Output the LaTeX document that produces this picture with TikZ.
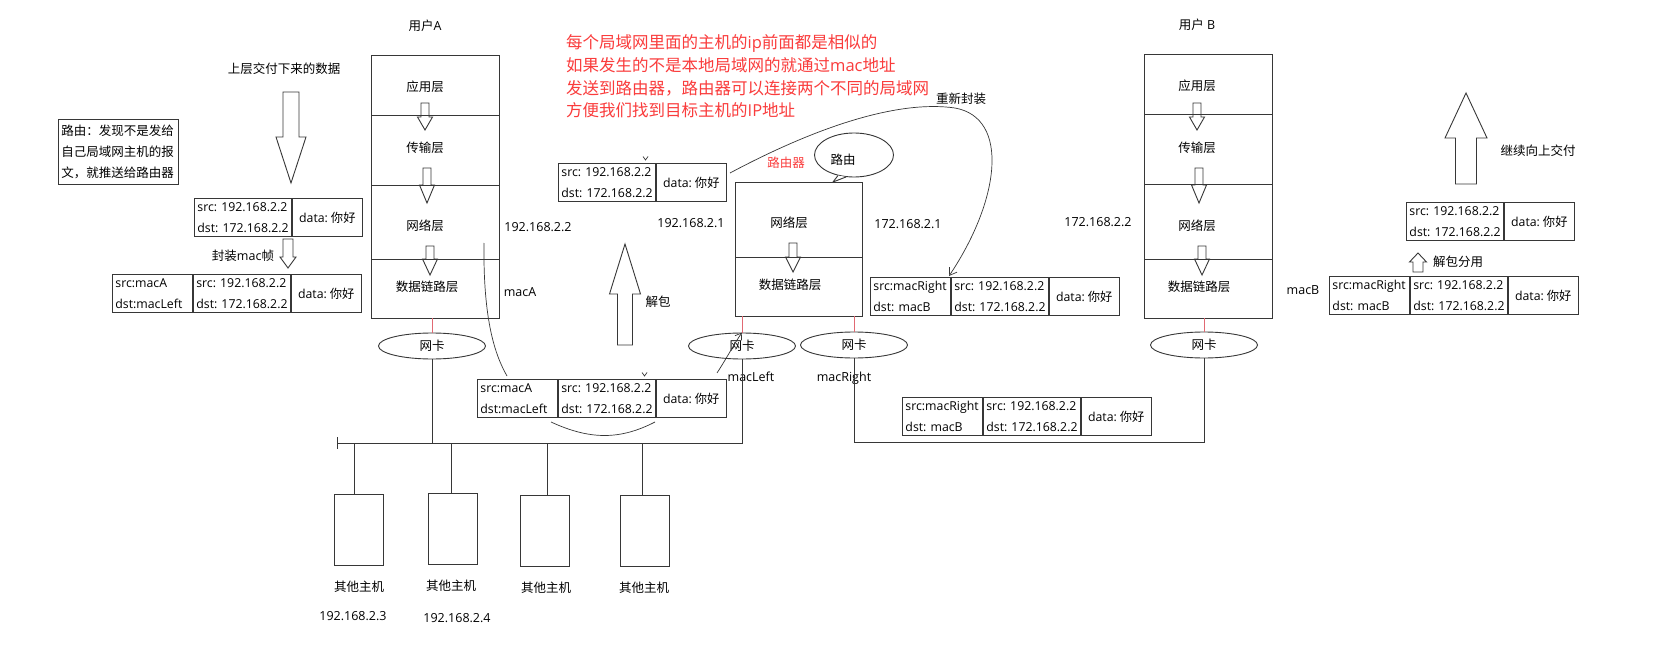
\documentclass[tikz,border=0pt]{standalone}
\usepackage{fontspec}
\setmainfont{Open Sans}
\newfontfamily\zh{Noto Sans CJK SC}
\usetikzlibrary{arrows.meta,shapes.geometric}
\definecolor{redtxt}{RGB}{250,60,60}
\definecolor{nicred}{RGB}{225,105,115}
\definecolor{ink}{RGB}{55,55,55}
\frenchspacing
\newcommand\nihao{data:\hspace{3pt}{\zh 你好}}
\newcommand\ipsd{\mbox{src: 192.168.2.2}\\\mbox{dst: 172.168.2.2}}
\newcommand\pktmac[5]{%
  \node[fld, text width=74] (#1m) at (#2,#3) {\mbox{#4}\\\mbox{#5}};
  \node[fld, text width=91] (#1i) at (#1m.north east) {\ipsd};
  \node[fld, text width=64, align=center] (#1d) at (#1i.north east) {\nihao};}
\newcommand\pktip[3]{%
  \node[fld, text width=91] (#1i) at (#2,#3) {\ipsd};
  \node[fld, text width=64, align=center] (#1d) at (#1i.north east) {\nihao};}
\tikzset{
  ln/.style={draw=ink, line width=0.9pt},
  cv/.style={draw=ink, line width=0.7pt},
  lbl/.style={inner sep=0pt, text height=10pt, text depth=1.5pt},
  lay/.style={ln, anchor=north west, minimum width=128, inner sep=0pt, outer sep=0pt},
  fld/.style={ln, anchor=north west, inner xsep=3pt, inner ysep=0pt, minimum height=38,
              align=left, font=\fontsize{12.3}{21}\selectfont\frenchspacing},
  nic/.style={ln, ellipse, minimum width=107, minimum height=26, inner sep=0pt, font=\zh\fontsize{12.5}{15}\selectfont},
  hostbox/.style={ln, anchor=north west, minimum width=49, minimum height=71, inner sep=0pt},
  redl/.style={draw=nicred, line width=0.9pt},
  rline/.style={inner sep=0pt, anchor=base west, text=redtxt, font=\fontsize{16.5}{20}\selectfont},
  pics/barrow/.style args={#1/#2/#3/#4}{code={
    \draw[ln, line join=miter] (-#2,0) -- (#2,0) -- ({#2},{#1-(#4)}) -- ({#3},{#1-(#4)}) -- (0,#1)
      -- ({-#3},{#1-(#4)}) -- ({-#2},{#1-(#4)}) -- cycle;}}
}
\begin{document}
\begin{tikzpicture}[x=1pt,y=-1pt,font=\fontsize{12.5}{15}\selectfont\frenchspacing]
\fill[white] (0,0) rectangle (1655,650);
\useasboundingbox (0,0) rectangle (1655,650);

% ---------- titles and notes ----------
\node[lbl] (uA) at (425,26) {{\zh 用户}A};
\node[lbl] (uB) at (1197,25) {{\zh 用户} B};
\node[lbl] (downtxt) at (284,69) {\zh 上层交付下来的数据};
\node[ln, anchor=north west, minimum width=120, minimum height=65, text width=114, inner xsep=3pt, inner ysep=0pt,
      align=left, font=\zh\fontsize{12.5}{21}\selectfont] (note) at (58,119)
      {路由：发现不是发给\\自己局域网主机的报\\文，就推送给路由器};

\node[rline] (r1) at (566,48.8) {{\zh 每个局域网里面的主机的}ip{\zh 前面都是相似的}};
\node[rline] (r2) at (566,71.8) {{\zh 如果发生的不是本地局域网的就通过}mac{\zh 地址}};
\node[rline] (r3) at (566,94.3) {\zh 发送到路由器，路由器可以连接两个不同的局域网};
\node[rline] (r4) at (566,116.8) {{\zh 方便我们找到目标主机的}IP{\zh 地址}};

% ---------- stack A ----------
\node[lay, minimum height=60] (A1) at (371,55) {};
\node[lay, minimum height=70] (A2) at (371,115) {};
\node[lay, minimum height=74] (A3) at (371,185) {};
\node[lay, minimum height=59] (A4) at (371,259) {};
\node[lbl] (lA1) at (425,87) {\zh 应用层};
\node[lbl] (lA2) at (425,148) {\zh 传输层};
\node[lbl] (lA3) at (425,226) {\zh 网络层};
\node[lbl] (lA4) at (427,287) {\zh 数据链路层};
\pic at (425,103) {barrow=27/4/7.5/13};
\pic at (427,168) {barrow=35/4/7.5/18};
\pic at (430,246) {barrow=29/4/7.5/16};

% ---------- router ----------
\node[lay, minimum width=127, minimum height=75] (R1) at (735,182) {};
\node[lay, minimum width=127, minimum height=59] (R2) at (735,257) {};
\node[lbl] (lR1) at (789,223) {\zh 网络层};
\node[lbl] (lR2) at (790,285) {\zh 数据链路层};
\pic at (793,243) {barrow=29/4/7.5/15};
\node[lbl, text=redtxt] (rtr) at (786,163) {\zh 路由器};
\node[ln, ellipse, minimum width=79, minimum height=44, inner sep=0pt, fill=white] (bub) at (854,155) {};
\node[lbl] (bubtxt) at (843,160) {\zh 路由};
\coordinate (bubtip) at (833,182);
\fill[white] (bub.232) -- (bubtip) -- (bub.250) -- cycle;
\draw[ln] (bub.232) -- (bubtip) -- (bub.250);

% ---------- stack B ----------
\node[lay, minimum height=60] (B1) at (1144,54) {};
\node[lay, minimum height=70] (B2) at (1144,114) {};
\node[lay, minimum height=75] (B3) at (1144,184) {};
\node[lay, minimum height=59] (B4) at (1144,259) {};
\node[lbl] (lB1) at (1197,86) {\zh 应用层};
\node[lbl] (lB2) at (1197,148) {\zh 传输层};
\node[lbl] (lB3) at (1197,226) {\zh 网络层};
\node[lbl] (lB4) at (1199,287) {\zh 数据链路层};
\pic at (1197,103) {barrow=27/4/7.5/13};
\pic at (1199,168) {barrow=35/4/7.5/18};
\pic at (1202,246) {barrow=29/4/7.5/16};

% ---------- addresses ----------
\node[lbl] (ipA) at (538,227) {192.168.2.2};
\node[lbl] (macA) at (520,292) {macA};
\node[lbl] (ipRL) at (691,223) {192.168.2.1};
\node[lbl] (ipRR) at (908,224) {172.168.2.1};
\node[lbl] (ipB) at (1098,222) {172.168.2.2};
\node[lbl] (macB) at (1303,290) {macB};
\node[lbl] (macL) at (751,377) {macLeft};
\node[lbl] (macR) at (844,377) {macRight};

% ---------- packets ----------
\pktip{p1}{194}{198}
\pktmac{p2}{112}{274}{src:macA}{dst:macLeft}
\pktip{p3}{558}{163}
\pktmac{p4}{870}{277}{src:macRight}{dst: macB}
\pktip{p5}{1406}{202}
\pktmac{p6}{1329}{276}{src:macRight}{dst: macB}
\pktmac{p7}{477}{379}{src:macA}{dst:macLeft}
\pktmac{p8}{902}{397}{src:macRight}{dst: macB}
\draw[cv] (643,156.5) -- (645.5,160) -- (648,156.5);
\draw[cv] (642,372.5) -- (644.5,376) -- (647,372.5);

% ---------- block arrows and their labels ----------
\pic at (291,92) {barrow=91/8/15/46};
\pic at (288,239) {barrow=29/5/8/11};
\node[lbl] (fz) at (243,256) {{\zh 封装}mac{\zh 帧}};
\pic at (625,345) {barrow=-101/7.5/15.5/-50};
\node[lbl] (jb) at (658,302) {\zh 解包};
\pic at (1466,184) {barrow=-91/10.5/21/-45};
\node[lbl] (jx) at (1538,151) {\zh 继续向上交付};
\pic at (1418,272) {barrow=-19/5/8.5/-9};
\node[lbl] (jbfy) at (1458,262) {\zh 解包分用};

% ---------- NICs and buses ----------
\node[nic] (nicA) at (432,346) {网卡};
\node[nic] (nicL) at (742,346) {网卡};
\node[nic] (nicR) at (854,345) {网卡};
\node[nic] (nicB) at (1204,345) {网卡};
\draw[redl] (nicA.north |- A4.south) -- (nicA.north);
\draw[redl] (nicL.north |- R2.south) -- (nicL.north);
\draw[redl] (nicR.north |- R2.south) -- (nicR.north);
\draw[redl] (nicB.north |- B4.south) -- (nicB.north);

\coordinate (busL) at (337,443);
\coordinate (busR) at (853,442);
\draw[ln] (busL) -- (nicL.south |- busL) -- (nicL.south);
\draw[ln] (nicA.south) -- (nicA.south |- busL);
\draw[ln] (337,437) -- (337,449);
\draw[ln] (nicR.south) -- (nicR.south |- busR) -- (nicB.south |- busR) -- (nicB.south);

% ---------- other hosts ----------
\node[hostbox] (h1) at (334,494) {};
\node[hostbox] (h2) at (428,493) {};
\node[hostbox] (h3) at (520,495) {};
\node[hostbox] (h4) at (620,495) {};
\coordinate (d1) at (354,443);
\coordinate (d2) at (451,443);
\coordinate (d3) at (547,443);
\coordinate (d4) at (642,443);
\draw[ln] (d1) -- (d1 |- h1.north);
\draw[ln] (d2) -- (d2 |- h2.north);
\draw[ln] (d3) -- (d3 |- h3.north);
\draw[ln] (d4) -- (d4 |- h4.north);
\node[lbl] (t1) at (359,587) {\zh 其他主机};
\node[lbl] (t2) at (451,586) {\zh 其他主机};
\node[lbl] (t3) at (546,588) {\zh 其他主机};
\node[lbl] (t4) at (644,588) {\zh 其他主机};
\node[lbl] (ip3) at (353,616) {192.168.2.3};
\node[lbl] (ip4) at (457,618) {192.168.2.4};

% ---------- curves ----------
\coordinate (cA0) at (484,243);
\coordinate (cA1) at (507,376);
\draw[cv] (cA0) .. controls (483,320) and (495,355) .. (cA1);
\coordinate (arc0) at (551,422);
\coordinate (arc1) at (655,422);
\draw[cv] (arc0) .. controls (590,440) and (620,440) .. (arc1);
\coordinate (ml0) at (717,373);
\draw[cv, -{Straight Barb[length=6pt,width=8pt]}] (ml0) .. controls (728,356) and (734,344) .. (nicL.north);
\coordinate (rs) at (730,173);
\coordinate (re) at (949,276);
\draw[cv, -{Straight Barb[length=7pt,width=9pt]}] (rs) .. controls (820,125) and (900,100) .. (955,108)
   .. controls (1010,118) and (1000,200) .. (re);
\node[lbl] (cxfz) at (961,99) {\zh 重新封装};
\end{tikzpicture}
\end{document}
